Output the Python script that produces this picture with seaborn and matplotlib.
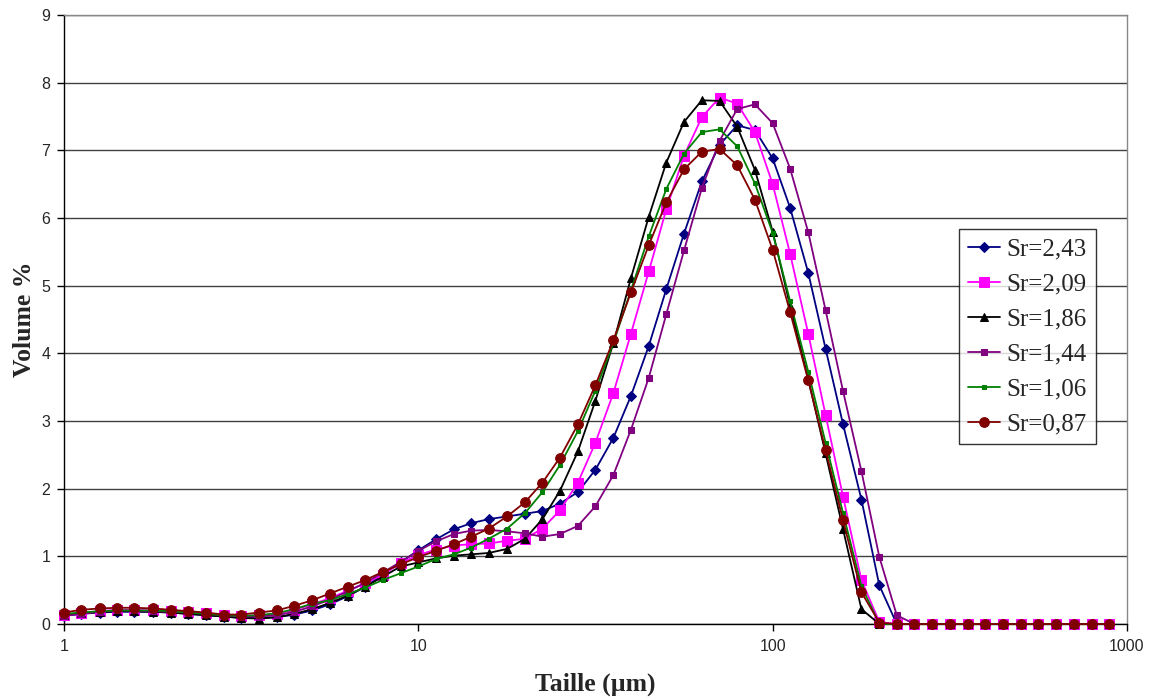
import matplotlib
matplotlib.use('Agg')
import matplotlib.pyplot as plt
import seaborn as sns
import pandas as pd
from matplotlib.ticker import FixedLocator, NullLocator

# particle size classes (µm), 20 classes per decade
taille = [1.00, 1.12, 1.26, 1.41, 1.58, 1.78, 2.00, 2.24, 2.51, 2.82,
          3.16, 3.55, 3.98, 4.47, 5.01, 5.62, 6.31, 7.08, 7.94, 8.91,
          10.0, 11.2, 12.6, 14.1, 15.8, 17.8, 20.0, 22.4, 25.1, 28.2,
          31.6, 35.5, 39.8, 44.7, 50.1, 56.2, 63.1, 70.8, 79.4, 89.1,
          100, 112, 126, 141, 158, 178, 200, 224, 251, 282,
          316, 355, 398, 447, 501, 562, 631, 708, 794, 891]

sr_243 = [0.12, 0.15, 0.17, 0.18, 0.18, 0.18, 0.17, 0.15, 0.13, 0.11,
          0.09, 0.09, 0.10, 0.14, 0.20, 0.29, 0.41, 0.55, 0.73, 0.91,
          1.09, 1.25, 1.40, 1.49, 1.55, 1.59, 1.63, 1.67, 1.78, 1.95,
          2.28, 2.75, 3.37, 4.11, 4.95, 5.77, 6.54, 7.08, 7.37, 7.30,
          6.88, 6.15, 5.19, 4.07, 2.95, 1.84, 0.57, 0.0, 0.0, 0.0,
          0.0, 0.0, 0.0, 0.0, 0.0, 0.0, 0.0, 0.0, 0.0, 0.0]
sr_209 = [0.13, 0.16, 0.19, 0.21, 0.21, 0.20, 0.19, 0.18, 0.16, 0.14,
          0.12, 0.13, 0.15, 0.21, 0.29, 0.38, 0.49, 0.60, 0.73, 0.90,
          1.02, 1.10, 1.16, 1.18, 1.19, 1.23, 1.26, 1.41, 1.68, 2.09,
          2.68, 3.41, 4.29, 5.21, 6.13, 6.92, 7.49, 7.78, 7.69, 7.27,
          6.50, 5.47, 4.29, 3.09, 1.88, 0.65, 0.03, 0.0, 0.0, 0.0,
          0.0, 0.0, 0.0, 0.0, 0.0, 0.0, 0.0, 0.0, 0.0, 0.0]
sr_186 = [0.14, 0.16, 0.18, 0.19, 0.19, 0.18, 0.17, 0.15, 0.13, 0.11,
          0.09, 0.08, 0.10, 0.15, 0.22, 0.31, 0.42, 0.55, 0.70, 0.85,
          0.91, 0.97, 1.01, 1.03, 1.05, 1.11, 1.26, 1.55, 1.97, 2.55,
          3.30, 4.15, 5.11, 6.02, 6.82, 7.42, 7.74, 7.73, 7.35, 6.71,
          5.80, 4.70, 3.62, 2.52, 1.40, 0.22, 0.0, 0.0, 0.0, 0.0,
          0.0, 0.0, 0.0, 0.0, 0.0, 0.0, 0.0, 0.0, 0.0, 0.0]
sr_144 = [0.12, 0.15, 0.18, 0.20, 0.20, 0.19, 0.18, 0.17, 0.15, 0.13,
          0.11, 0.11, 0.13, 0.18, 0.26, 0.36, 0.48, 0.61, 0.76, 0.92,
          1.08, 1.22, 1.33, 1.38, 1.39, 1.37, 1.34, 1.29, 1.33, 1.45,
          1.74, 2.20, 2.87, 3.64, 4.58, 5.52, 6.44, 7.14, 7.61, 7.68,
          7.40, 6.73, 5.79, 4.64, 3.44, 2.26, 0.99, 0.13, 0.0, 0.0,
          0.0, 0.0, 0.0, 0.0, 0.0, 0.0, 0.0, 0.0, 0.0, 0.0]
sr_106 = [0.15, 0.17, 0.19, 0.20, 0.20, 0.20, 0.19, 0.17, 0.15, 0.13,
          0.12, 0.13, 0.16, 0.22, 0.30, 0.35, 0.44, 0.54, 0.65, 0.75,
          0.85, 0.96, 1.03, 1.13, 1.26, 1.41, 1.64, 1.95, 2.35, 2.85,
          3.45, 4.15, 4.93, 5.73, 6.43, 6.95, 7.27, 7.31, 7.06, 6.51,
          5.78, 4.77, 3.73, 2.68, 1.64, 0.56, 0.0, 0.0, 0.0, 0.0,
          0.0, 0.0, 0.0, 0.0, 0.0, 0.0, 0.0, 0.0, 0.0, 0.0]
sr_087 = [0.17, 0.21, 0.23, 0.24, 0.24, 0.23, 0.21, 0.19, 0.17, 0.14,
          0.14, 0.17, 0.20, 0.27, 0.35, 0.45, 0.55, 0.65, 0.77, 0.88,
          0.99, 1.08, 1.18, 1.29, 1.41, 1.59, 1.80, 2.09, 2.46, 2.95,
          3.53, 4.19, 4.90, 5.60, 6.23, 6.72, 6.98, 7.02, 6.78, 6.27,
          5.53, 4.61, 3.60, 2.57, 1.53, 0.47, 0.02, 0.0, 0.0, 0.0,
          0.0, 0.0, 0.0, 0.0, 0.0, 0.0, 0.0, 0.0, 0.0, 0.0]

labels = ['Sr=2,43', 'Sr=2,09', 'Sr=1,86', 'Sr=1,44', 'Sr=1,06', 'Sr=0,87']
series = [sr_243, sr_209, sr_186, sr_144, sr_106, sr_087]

# style of each curve: colour, marker, marker size
styles = [('#000080', 'D', 5.0),
          ('#FF00FF', 's', 6.5),
          ('#000000', '^', 5.5),
          ('#800080', 's', 4.5),
          ('#008000', 's', 3.5),
          ('#800000', 'o', 7)]

sns.set_style('white')
plt.rcParams['font.family'] = ['Liberation Sans', 'DejaVu Sans']

fig = plt.figure(figsize=(11.5, 6.98), dpi=100)
ax = fig.add_axes([0.0557, 0.106, 0.9243, 0.8725])

for vals, lab, (col, mk, ms) in zip(series, labels, styles):
    df = pd.DataFrame({'taille': taille, 'volume': vals})
    sns.lineplot(data=df, x='taille', y='volume', ax=ax, color=col, marker=mk,
                 markersize=ms, markeredgecolor=col, linewidth=1.3,
                 label=lab, clip_on=False, zorder=3)

ax.set_xscale('log')
ax.set_xlim(1, 1000)
ax.set_ylim(0, 9)
ax.xaxis.set_major_locator(FixedLocator([1, 10, 100, 1000]))
ax.xaxis.set_minor_locator(NullLocator())
ax.set_xticklabels(['1', '10', '100', '1000'])
ax.set_yticks(range(0, 10))

ax.yaxis.grid(True, color='#404040', linewidth=1.0)
ax.xaxis.grid(False)
ax.set_axisbelow(True)

for s in ['left', 'bottom']:
    ax.spines[s].set_color('black')
    ax.spines[s].set_linewidth(1.0)
for s in ['top', 'right']:
    ax.spines[s].set_color('#888888')
    ax.spines[s].set_linewidth(1.0)

ax.tick_params(axis='both', direction='out', length=5, width=1, color='black',
               labelsize=11.5, bottom=True, left=True)
ax.tick_params(axis='x', pad=6)
ax.tick_params(axis='y', pad=5)

ax.set_xlabel('Taille (µm)', family=['Liberation Serif', 'DejaVu Serif'],
              fontsize=18.5, fontweight='bold', labelpad=13)
ax.set_ylabel('Volume %', family=['Liberation Serif', 'DejaVu Serif'],
              fontsize=18.5, fontweight='bold', labelpad=4)

leg = ax.legend(loc='upper left', bbox_to_anchor=(0.842, 0.6486), frameon=True,
                fancybox=False, shadow=False, borderpad=0.35, labelspacing=0.5,
                handlelength=1.3, handletextpad=0.25, borderaxespad=0,
                prop={'family': 'Liberation Serif', 'size': 18})
leg.get_frame().set_edgecolor('black')
leg.get_frame().set_linewidth(1.0)

fig.savefig('out.png', dpi=100)
